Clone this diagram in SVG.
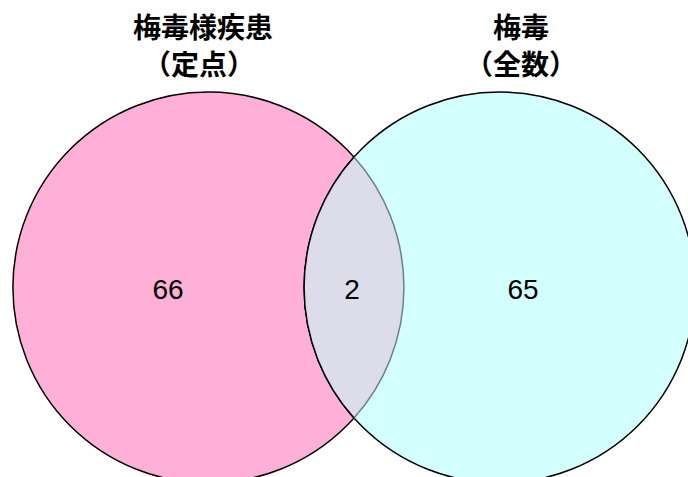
<svg xmlns="http://www.w3.org/2000/svg" width="688" height="477" viewBox="0 0 688 477">
<style>
.title{font-family:"Liberation Sans","Noto Sans CJK JP",sans-serif;font-weight:bold;font-size:28px;fill:#000;text-anchor:middle}
.num{font-family:"Liberation Sans",Arial,sans-serif;font-size:28px;fill:#000;text-anchor:middle}
</style>
<rect width="688" height="477" fill="#fff"/>
<g id="set-left">
<circle cx="208.4" cy="287.5" r="195.5" fill="#FFB0D8" stroke="#000" stroke-width="1.5"/>
</g>
<g id="set-right">
<circle cx="499.6" cy="287.5" r="195.5" fill="#D4FFFF" stroke="#000" stroke-width="1.5"/>
</g>
<g id="overlap">
<path d="M354,157 A195.5,195.5 0 0 0 354,418 A195.5,195.5 0 0 0 354,157 Z" fill="#DCDCEA"/>
<path d="M354,157 A195.5,195.5 0 0 1 354,418" fill="none" stroke="#6E8082" stroke-width="1.5"/>
<path d="M354,157 A195.5,195.5 0 0 0 354,418" fill="none" stroke="#000" stroke-width="1.5"/>
</g>
<g id="labels">
<text class="title" x="203" y="38">梅毒様疾患</text>
<text class="title" x="199" y="75">（定点）</text>
<text class="title" x="521" y="38">梅毒</text>
<text class="title" x="521" y="75">（全数）</text>
<text class="num" x="168" y="299">66</text>
<text class="num" x="352" y="299">2</text>
<text class="num" x="523" y="299">65</text>
</g>
</svg>
